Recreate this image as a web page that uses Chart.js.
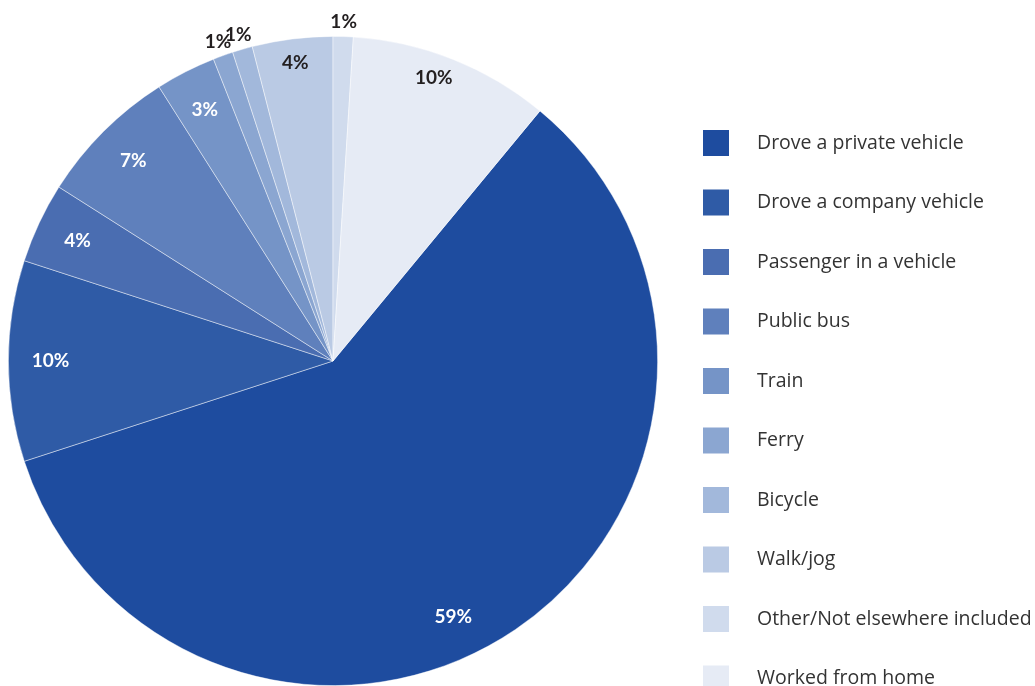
<!DOCTYPE html>
<html>
<head>
<meta charset="utf-8">
<script src="https://cdn.jsdelivr.net/npm/chart.js@4/dist/chart.umd.min.js"></script>
<style>
    html, body { margin: 0; padding: 0; background: #fff; }
    #wrap { position: relative; width: 1035px; height: 686px; }
</style>
</head>
<body>
<div id="wrap"><canvas id="myChart" width="1035" height="686"></canvas></div>
<script>
const modes = ['Drove a private vehicle', 'Drove a company vehicle', 'Passenger in a vehicle', 'Public bus', 'Train',
    'Ferry', 'Bicycle', 'Walk/jog', 'Other/Not elsewhere included', 'Worked from home'];
const shares = [59, 10, 4, 7, 3, 1, 1, 4, 1, 10];
const colours = ['#1e4c9f', '#2f5ba6', '#4a6db1', '#5f80bc', '#7594c7', '#8ba6d1', '#a2b8db', '#bacae4', '#d0dbed', '#e6ebf5'];

// white text on the darker slices, dark text on the pale ones
const labelColours = ['#fff', '#fff', '#fff', '#fff', '#fff', '#231f20', '#231f20', '#231f20', '#231f20', '#231f20'];

// small slices get their label just outside the pie
const sliceLabels = {
    id: 'sliceLabels',
    afterDatasetsDraw(chart) {
        const ctx = chart.ctx;
        const meta = chart.getDatasetMeta(0);
        ctx.save();
        ctx.font = 'bold 19px Lato';
        ctx.textAlign = 'center';
        ctx.textBaseline = 'middle';
        meta.data.forEach((arc, i) => {
            const p = arc.getProps(['x', 'y', 'startAngle', 'endAngle', 'outerRadius'], true);
            let mid = (p.startAngle + p.endAngle) / 2;
            if (i == 0) mid += 9 * Math.PI / 180;
            if (i == 9) mid -= 2 * Math.PI / 180;
            // the pale slices near the top carry their label closer to the rim
            const r = shares[i] <= 1 ? p.outerRadius * 1.045 : p.outerRadius * (i >= 7 ? 0.925 : 0.87);
            ctx.fillStyle = labelColours[i];
            ctx.fillText(shares[i] + '%', p.x + Math.cos(mid) * r, p.y + Math.sin(mid) * r);
        });
        ctx.restore();
    }
};

const sideLegend = {
    id: 'sideLegend',
    afterDraw(chart) {
        const ctx = chart.ctx;
        ctx.save();
        ctx.font = '19.5px "Open Sans"';
        ctx.textBaseline = 'middle';
        modes.forEach((name, i) => {
            const y = 143 + i * 59.5;
            ctx.fillStyle = colours[i];
            ctx.fillRect(703, y - 13, 26, 26);
            ctx.fillStyle = '#333';
            ctx.fillText(name, 757, y);
        });
        ctx.restore();
    }
};

const ctx = document.getElementById('myChart').getContext('2d');
new Chart(ctx, {
    type: 'pie',
    data: {
        labels: modes,
        datasets: [{
            data: shares,
            backgroundColor: colours,
            borderColor: 'rgba(255, 255, 255, 0.55)',
            borderWidth: 0.8
        }]
    },
    options: {
        responsive: false,
        animation: false,
        rotation: 39.6,
        layout: { padding: { left: 8, right: 377, top: 36, bottom: 0 } },
        plugins: {
            legend: { display: false },
            tooltip: { enabled: false }
        }
    },
    plugins: [sliceLabels, sideLegend]
});
</script>
</body>
</html>
